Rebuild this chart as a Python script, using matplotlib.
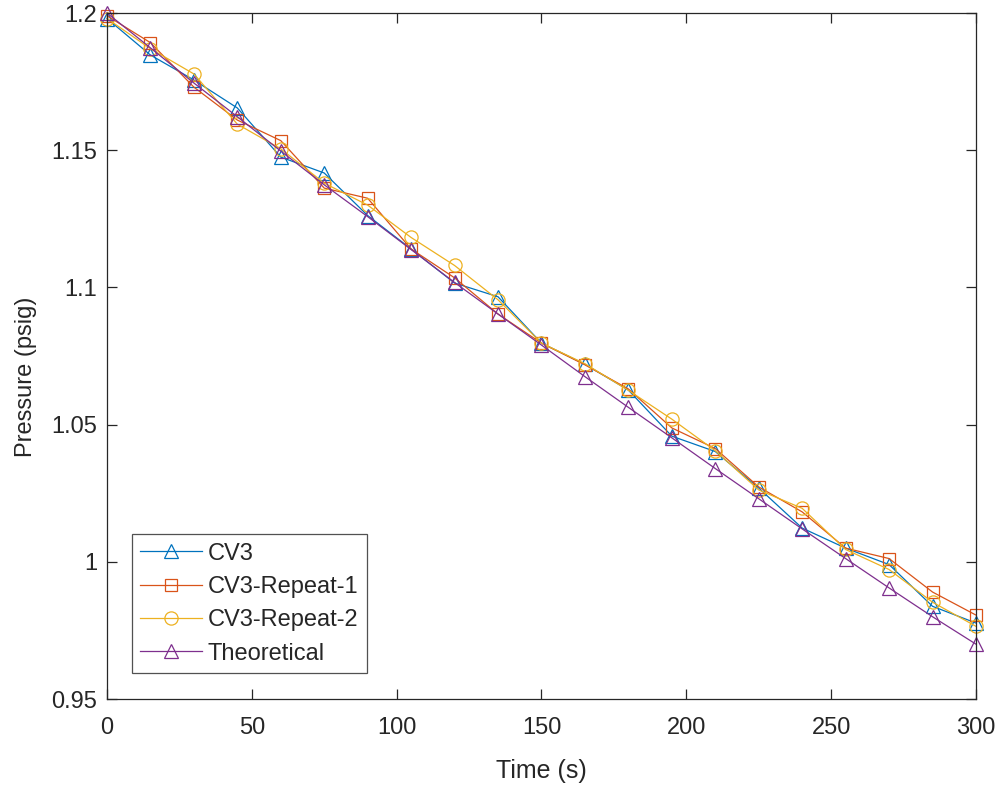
import matplotlib
matplotlib.use("Agg")
import matplotlib.pyplot as plt

time_s = [0, 15, 30, 45, 60, 75, 90, 105, 120, 135, 150, 165, 180, 195, 210, 225, 240, 255, 270, 285, 300]

cv3 = [1.198, 1.1847, 1.1756, 1.1654, 1.1475, 1.1417, 1.1262, 1.1140, 1.1016, 1.0966, 1.0797,
       1.0720, 1.0626, 1.0458, 1.0402, 1.0269, 1.0123, 1.0050, 0.9990, 0.9838, 0.9777]
cv3_rep1 = [1.199, 1.1892, 1.1730, 1.1610, 1.1535, 1.1362, 1.1325, 1.1140, 1.1035, 1.0903, 1.0797,
            1.0718, 1.0630, 1.0488, 1.0413, 1.0273, 1.0182, 1.0050, 1.0012, 0.9890, 0.9806]
cv3_rep2 = [1.198, 1.1870, 1.1778, 1.1595, 1.1505, 1.1380, 1.1300, 1.1182, 1.1080, 1.0955, 1.0797,
            1.0722, 1.0625, 1.0520, 1.0405, 1.0262, 1.0195, 1.0045, 0.9972, 0.9853, 0.9765]
theoretical = [1.200, 1.1873, 1.1745, 1.1622, 1.1497, 1.1374, 1.1258, 1.1138, 1.1018, 1.0903, 1.0790,
               1.0675, 1.0563, 1.0452, 1.0340, 1.0230, 1.0120, 1.0012, 0.9905, 0.9800, 0.9700]

series = [
    ("CV3", cv3, "#0072BD", "^"),
    ("CV3-Repeat-1", cv3_rep1, "#D95319", "s"),
    ("CV3-Repeat-2", cv3_rep2, "#EDB120", "o"),
    ("Theoretical", theoretical, "#7E2F8E", "^"),
]

plt.rcParams['font.family'] = ['Liberation Sans', 'DejaVu Sans']

fig = plt.figure(figsize=(9.96, 7.89), dpi=100)
ax = fig.add_axes([0.1074, 0.114, 0.8725, 0.8695])

for label, vals, color, marker in series:
    ms = 10 if marker == "^" else (8.5 if marker == "s" else 9.5)
    ax.plot(time_s, vals, color=color, marker=marker, markersize=ms,
            markerfacecolor='none', markeredgecolor=color, markeredgewidth=0.9,
            linewidth=0.9, label=label, clip_on=False)

ax.set_xlim(0, 300)
ax.set_ylim(0.95, 1.2)
ax.set_xticks([0, 50, 100, 150, 200, 250, 300])
ax.set_yticks([0.95, 1.0, 1.05, 1.1, 1.15, 1.2])
ax.set_yticklabels(["0.95", "1", "1.05", "1.1", "1.15", "1.2"])
ax.tick_params(direction='in', top=True, right=True, length=7, width=0.9,
               labelsize=17, colors='#262626', pad=7)
ax.tick_params(axis='x', pad=13)
for sp in ax.spines.values():
    sp.set_linewidth(0.9)
    sp.set_color('#262626')

ax.set_xlabel("Time (s)", fontsize=18, color='#262626', labelpad=14)
ax.set_ylabel("Pressure (psig)", fontsize=17, color='#262626')
ax.yaxis.set_label_coords(-0.08, 0.47)

leg = ax.legend(loc='lower left', bbox_to_anchor=(0.029, 0.038), borderaxespad=0,
                fontsize=17, frameon=True, fancybox=False, edgecolor='#262626',
                handlelength=2.6, handletextpad=0.25, labelspacing=0.48, borderpad=0.35)
leg.get_frame().set_linewidth(0.9)
for t in leg.get_texts():
    t.set_color('#262626')

fig.savefig("out.png", dpi=100)
